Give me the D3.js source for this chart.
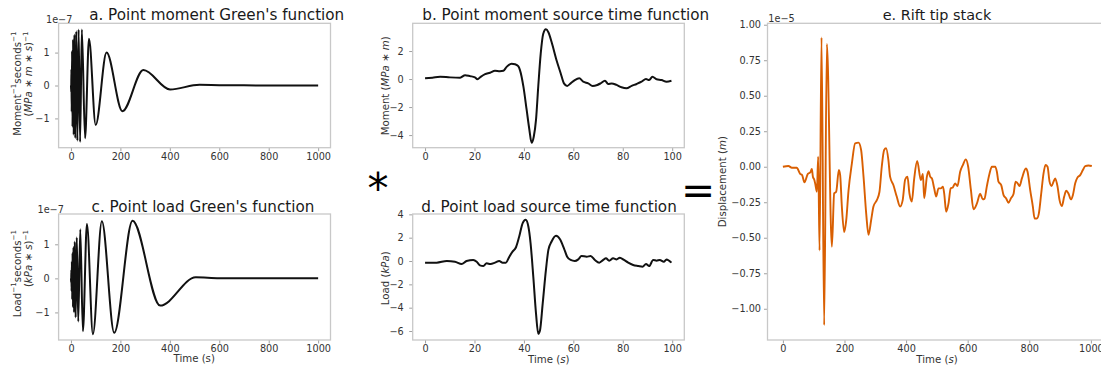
<!DOCTYPE html>
<html><head><meta charset="utf-8">
<script src="https://cdn.jsdelivr.net/npm/d3@7"></script>
<style>
html,body{margin:0;padding:0;background:#fff;}
svg text{font-family:"DejaVu Sans",sans-serif;}
</style></head>
<body><svg id="chart" width="1101" height="369"></svg>
<script>
// ---------- data ----------
// a. Point moment Green's function (x 1e-7)
const greenMomentT = [0, 0.9, 1.8, 3, 4.5, 6.3, 8.5, 11, 14, 17.5, 21.5, 26, 31, 37, 44, 57, 73, 100, 144, 208, 293, 401, 520, 600, 700, 800, 1000];
const greenMomentV = [0, -0.2, 0.5, -0.8, 1.05, -1.25, 1.4, -1.5, 1.55, -1.6, 1.65, -1.68, 1.7, -1.72, 1.7, -1.6, 1.42, -1.2, 1.0, -0.78, 0.47, -0.12, 0.02, 0.01, 0.005, 0, 0];
// c. Point load Green's function (x 1e-7)
const greenLoadT = [0, 0.8, 1.6, 2.6, 3.7, 5.0, 6.5, 8.2, 10.2, 12.6, 15.5, 19, 23.5, 29.5, 37.6, 48.3, 64.6, 88.8, 125, 175, 249, 361, 505, 600, 1000];
const greenLoadV = [0, -0.12, 0.25, -0.38, 0.5, -0.62, 0.75, -0.85, 0.92, -1.0, 1.08, -1.15, 1.2, -1.27, 1.44, -1.55, 1.6, -1.64, 1.68, -1.6, 1.69, -0.8, 0.03, 0.005, 0];
// b. Point moment source time function (MPa*m)
const momentT = [0, 3, 6.1, 10.1, 14.2, 16.2, 18.2, 20.2, 21.2, 22.5, 24.3, 26.3, 28.3, 30.3, 31.7, 33.0, 35.0, 36.4, 37.7, 38.4, 39.8, 41.1, 42.2, 43.1, 44.0, 44.9, 45.8, 46.8, 47.8, 48.9, 49.9, 51.2, 53.2, 54.9, 56.2, 57.5, 58.9, 60.6, 62.4, 64.0, 66.0, 67.8, 69.7, 71.0, 72.8, 74.1, 75.5, 77.5, 79.5, 81.5, 83.6, 85.6, 87.6, 89.4, 90.7, 92.0, 93.7, 95.7, 97.7, 99.7];
const momentV = [0.05, 0.1, 0.16, 0.12, 0.1, 0.28, 0.21, 0.12, -0.02, 0.16, 0.35, 0.45, 0.59, 0.56, 0.59, 0.87, 1.1, 1.06, 0.92, 0.64, -0.54, -2.19, -3.6, -4.55, -4.1, -2.9, -0.54, 1.81, 3.22, 3.55, 3.34, 2.64, 1.34, 0.4, -0.31, -0.49, -0.31, -0.07, 0.05, -0.19, -0.31, -0.49, -0.42, -0.31, -0.12, -0.35, -0.31, -0.42, -0.59, -0.66, -0.49, -0.35, -0.19, 0.0, -0.07, 0.16, -0.02, -0.07, -0.19, -0.12];
// d. Point load source time function (kPa)
const loadT = [0, 4.7, 8.8, 12.1, 14.8, 16.8, 19.5, 20.9, 22.2, 23.6, 24.9, 26.5, 28.3, 30, 31.4, 32.7, 34.1, 35.4, 36.8, 38.1, 39.5, 40.7, 41.8, 42.7, 43.8, 44.9, 45.8, 46.5, 47.6, 48.9, 49.9, 51.2, 53, 54.6, 56.2, 57.5, 58.9, 60.6, 62, 63.3, 65.4, 67, 68.7, 70.5, 72.1, 73.2, 74.5, 76.1, 77.5, 78.8, 80.5, 82.2, 84.2, 86.3, 88, 89.4, 90.7, 92.3, 93.7, 95, 96.6, 97.7, 99.7];
const loadV = [-0.14, -0.14, 0, -0.06, -0.26, 0, 0.09, -0.06, -0.37, -0.43, -0.2, -0.26, -0.14, 0, -0.14, -0.14, 0.37, 0.8, 1.18, 2.1, 3.25, 3.53, 2.96, 1.52, -1.35, -4.51, -6.24, -5.95, -3.65, -0.78, 0.95, 1.67, 2.16, 1.87, 1.09, 0.37, 0.09, 0, 0.14, 0.43, 0.37, 0.43, 0.09, -0.14, 0.09, 0.23, 0.03, 0.23, 0.14, 0.29, 0.09, -0.14, -0.34, -0.43, -0.49, -0.26, -0.43, 0.09, 0.03, 0.09, -0.06, 0.14, -0.14];
// e. Rift tip stack (x 1e-5 m)
const stackT = [0, 18, 29, 45, 56, 62, 70, 81, 89, 94, 97.4, 101.7, 105, 110.3, 114.6, 119, 125.4, 134, 142.8, 159, 166.5, 173, 181.7, 186, 191.4, 199, 205.5, 213, 224, 234.6, 245.5, 254, 261.8, 270.5, 278, 286.6, 294, 305, 313.6, 321, 328.8, 335, 342.6, 348, 359, 369.6, 380.5, 389, 397, 404.4, 411, 418.6, 426, 436, 448, 454.5, 458.8, 467.5, 472.8, 478.2, 483.8, 491.2, 497.7, 505.2, 513, 519.5, 523.7, 530.2, 537.6, 545, 551.7, 559.2, 566.8, 575.6, 584.3, 594, 601.6, 610.3, 618.9, 629.7, 640.6, 649, 654.6, 662, 671, 678.6, 689.4, 694.8, 700, 708.9, 716.5, 725, 732.6, 740.3, 749, 755.5, 762, 768.4, 776, 789, 794.4, 803, 811.7, 817.2, 824.7, 831, 838.7, 846.3, 852.8, 859.3, 865.8, 872.3, 878.8, 884.2, 891.8, 898.3, 905.8, 913.4, 919.9, 927.5, 935, 941.5, 949.1, 956.7, 965.3, 974, 981.6, 992.4, 1003];
const stackV = [0.0, 0.005, -0.007, -0.007, -0.05, -0.057, -0.11, -0.05, -0.04, -0.016, -0.07, -0.09, -0.12, -0.176, 0.07, -0.59, 0.91, -1.115, 0.864, -0.563, -0.187, -0.176, -0.023, -0.06, -0.28, -0.46, -0.38, -0.17, 0.024, 0.165, 0.17, 0.118, -0.07, -0.33, -0.48, -0.375, -0.28, -0.235, -0.176, 0.0, 0.118, 0.13, 0.047, -0.07, -0.13, -0.21, -0.28, -0.235, -0.09, -0.07, -0.19, -0.245, -0.09, 0.04, -0.094, -0.051, -0.222, -0.07, -0.031, -0.07, -0.082, -0.152, -0.21, -0.152, -0.152, -0.14, -0.187, -0.317, -0.26, -0.152, -0.146, -0.117, -0.136, -0.035, 0.012, 0.052, 0.0, -0.16, -0.3, -0.26, -0.19, -0.23, -0.225, -0.14, -0.047, 0.0, 0.0, -0.035, -0.105, -0.129, -0.2, -0.223, -0.254, -0.223, -0.19, -0.105, -0.117, -0.136, -0.082, -0.012, -0.035, -0.164, -0.282, -0.364, -0.364, -0.33, -0.19, -0.047, 0.012, 0.0, -0.105, -0.136, -0.105, -0.082, -0.14, -0.235, -0.277, -0.21, -0.169, -0.19, -0.23, -0.2, -0.117, -0.075, -0.059, -0.023, 0.005, 0.009, 0.005];

// tick labels
const xTicksLong = [0, 200, 400, 600, 800, 1000];
const xTicksShort = [0, 20, 40, 60, 80, 100];
const yTicksGreen = [-1, 0, 1];
const yTicksMoment = [-4, -2, 0, 2];
const yTicksLoad = [-6, -4, -2, 0, 2, 4];
const yTicksStack = [-1.0, -0.75, -0.5, -0.25, 0.0, 0.25, 0.5, 0.75, 1.0];

// ---------- drawing ----------
const svg = d3.select("#chart");
svg.append("rect").attr("width", 1101).attr("height", 369).attr("fill", "#fff");

const TICK_FS = 9.7, LABEL_FS = 10.2, TITLE_FS = 15.2;
const SPINE = "#c8c8c8", TICKC = "#a0a0a0", TXT = "#333";

function rich(sel, parts, fs) {
  // parts: [{t, sup, it}]
  let shift = 0;
  parts.forEach(p => {
    const ts = sel.append("tspan").text(p.t);
    if (p.it) ts.attr("font-style", "italic");
    if (p.sup) {
      ts.attr("font-size", fs * 0.7).attr("dy", -fs * 0.42 - shift);
      shift = -fs * 0.42;
    } else {
      if (shift !== 0) { ts.attr("dy", -shift); shift = 0; }
    }
  });
}

function panel(o) {
  const g = svg.append("g");
  const x = d3.scaleLinear().domain(o.xd).range([o.x0, o.x1]);
  const y = d3.scaleLinear().domain(o.yd).range([o.y1, o.y0]);

  const xa = g.append("g").attr("transform", `translate(0,${o.y1})`)
    .call(d3.axisBottom(x).tickValues(o.xt).tickFormat(d3.format("d")).tickSize(3.5).tickPadding(1.5));
  const ya = g.append("g").attr("transform", `translate(${o.x0},0)`)
    .call(d3.axisLeft(y).tickValues(o.yt).tickFormat(o.yf).tickSize(3.5).tickPadding(o.ypad));
  [xa, ya].forEach(a => {
    a.select(".domain").remove();
    a.selectAll("line").attr("stroke", TICKC).attr("stroke-width", 1);
    a.selectAll("text").attr("fill", TXT).attr("font-size", TICK_FS)
      .attr("font-family", "DejaVu Sans");
  });

  g.append("rect").attr("x", o.x0).attr("y", o.y0)
    .attr("width", o.x1 - o.x0).attr("height", o.y1 - o.y0)
    .attr("fill", "none").attr("stroke", SPINE).attr("stroke-width", 1.3);

  const pts = o.t.map((t, i) => [t, o.v[i]]);
  g.append("path").datum(pts)
    .attr("fill", "none").attr("stroke", o.color).attr("stroke-width", o.lw || 2)
    .attr("stroke-linejoin", "round")
    .attr("d", d3.line().x(d => x(d[0])).y(d => y(d[1])).curve(d3.curveMonotoneX));

  g.append("text").attr("x", o.tx).attr("y", o.ty).attr("text-anchor", "middle")
    .attr("font-size", o.tfs || TITLE_FS).attr("fill", "#1a1a1a").text(o.title);

  if (o.offset) {
    g.append("text").attr("x", o.offset[0]).attr("y", o.offset[1])
      .attr("font-size", TICK_FS).attr("fill", TXT).text(o.offset[2]);
  }
  return g;
}

const fmtInt = d3.format("d");
const fmt2 = d3.format(".2f");

// a
panel({x0: 58.6, x1: 330.5, y0: 23.3, y1: 147.7, xd: [-50, 1050], yd: [-1.89, 1.89],
  xt: xTicksLong, yt: yTicksGreen, yf: fmtInt, ypad: 5.5,
  t: greenMomentT, v: greenMomentV, color: "#111",
  title: "a. Point moment Green's function", tx: 216.7, ty: 19.5, offset: [46, 22.5, "1e\u22127"]});
// b
panel({x0: 412.7, x1: 684.3, y0: 23.3, y1: 147.7, xd: [-5, 104.9], yd: [-4.9, 3.98],
  xt: xTicksShort, yt: yTicksMoment, yf: fmtInt, ypad: 5.5,
  t: momentT, v: momentV, color: "#111",
  title: "b. Point moment source time function", tx: 565.8, ty: 19.5});
// c
panel({x0: 58.6, x1: 330.5, y0: 214, y1: 340, xd: [-50, 1050], yd: [-1.81, 1.89],
  xt: xTicksLong, yt: yTicksGreen, yf: fmtInt, ypad: 5.5,
  t: greenLoadT, v: greenLoadV, color: "#111",
  title: "c. Point load Green's function", tx: 203, ty: 211.7, offset: [37.5, 212.8, "1e\u22127"]});
// d
panel({x0: 412.7, x1: 684.3, y0: 214, y1: 340, xd: [-5, 104.9], yd: [-6.77, 4.03],
  xt: xTicksShort, yt: yTicksLoad, yf: fmtInt, ypad: 5.5,
  t: loadT, v: loadV, color: "#111",
  title: "d. Point load source time function", tx: 549, ty: 211.7});
// e
panel({x0: 767.5, x1: 1107.2, y0: 23.3, y1: 340, xd: [-50, 1053], yd: [-1.22, 1.01],
  xt: xTicksLong, yt: yTicksStack, yf: fmt2, ypad: 3,
  t: stackT, v: stackV, color: "#d95f02", lw: 1.9,
  title: "e. Rift tip stack", tx: 937, ty: 20, tfs: 14.4, offset: [768.3, 21.7, "1e\u22125"]});

// axis labels
function ylab(x, y, anchor, parts) {
  const t = svg.append("text").attr("transform", `translate(${x},${y}) rotate(-90)`)
    .attr("text-anchor", anchor).attr("font-size", LABEL_FS).attr("fill", TXT);
  rich(t, parts, LABEL_FS);
}
function xlab(x, y, parts) {
  const t = svg.append("text").attr("x", x).attr("y", y)
    .attr("text-anchor", "middle").attr("font-size", LABEL_FS).attr("fill", TXT);
  rich(t, parts, LABEL_FS);
}
const sup = s => ({t: s, sup: true});
const it = s => ({t: s, it: true});
const rm = s => ({t: s});

ylab(20.6, 31.5, "end", [rm("Moment"), sup("\u22121"), rm("seconds"), sup("\u22121")]);
ylab(32.2, 31.5, "end", [rm("("), it("MPa"), rm(" \u2217 "), it("m"), rm(" \u2217 "), it("s"), rm(")"), sup("\u22121")]);
ylab(20.6, 230, "end", [rm("Load"), sup("\u22121"), rm("seconds"), sup("\u22121")]);
ylab(32.2, 230, "end", [rm("("), it("kPa"), rm(" \u2217 "), it("s"), rm(")"), sup("\u22121")]);
ylab(388.7, 85.8, "middle", [rm("Moment ("), it("MPa"), rm(" \u2217 "), it("m"), rm(")")]);
ylab(389.3, 278.3, "middle", [rm("Load ("), it("kPa"), rm(")")]);
ylab(725.5, 181.7, "middle", [rm("Displacement ("), it("m"), rm(")")]);

xlab(194.2, 361.5, [rm("Time (s)")]);
xlab(548.8, 363, [rm("Time ("), it("s"), rm(")")]);
xlab(937, 363, [rm("Time ("), it("s"), rm(")")]);

// operators
svg.append("text").attr("x", 378).attr("y", 202.8).attr("text-anchor", "middle")
  .attr("font-size", 42).attr("fill", "#000").text("*");
svg.append("text").attr("x", 698).attr("y", 204).attr("text-anchor", "middle")
  .attr("font-size", 40.8).attr("fill", "#000").text("=");
</script>
</body></html>
